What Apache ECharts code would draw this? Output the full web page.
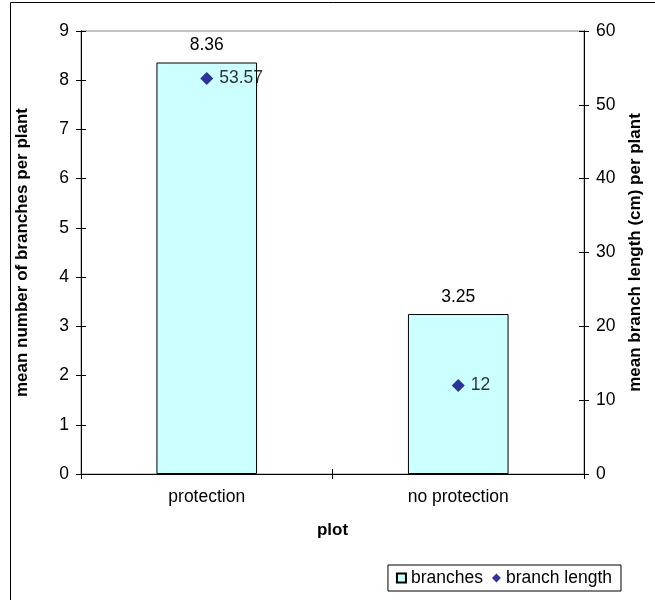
<!DOCTYPE html>
<html><head><meta charset="utf-8">
<script src="https://cdn.jsdelivr.net/npm/echarts@6/dist/echarts.min.js"></script>
<style>html,body{margin:0;padding:0;background:#fff}#c{width:655px;height:600px}</style>
</head><body><div id="c"></div>
<script>
const categories = ['protection', 'no protection'];
const branches = [8.36, 3.25];
const branchLength = [53.57, 12];
const leftTicks = {min: 0, max: 9, interval: 1};
const rightTicks = {min: 0, max: 60, interval: 10};

const font = 'Liberation Sans, Arial, sans-serif';
const fs = 17.5;
const chart = echarts.init(document.getElementById('c'));
const baseY = (t, pos, extra) => Object.assign({
  type: 'value', position: pos, min: t.min, max: t.max, interval: t.interval,
  splitLine: {show: false},
  axisLine: {show: true, lineStyle: {color: '#000', width: 1}},
  axisTick: {show: true, length: 5, lineStyle: {color: '#000'}},
  axisLabel: {color: '#000', fontSize: fs, fontFamily: font, margin: 12}
}, extra || {});
const titleStyle = {color: '#000', fontSize: 17, fontWeight: 'bold', fontFamily: font};
chart.setOption({
  animation: false,
  grid: {left: 81, right: 71, top: 31, bottom: 126, show: true, borderColor: '#888', borderWidth: 1},
  graphic: [{type: 'rect', shape: {x: 10.5, y: 2.5, width: 700, height: 700}, style: {fill: 'none', stroke: '#000', lineWidth: 1}, silent: true}],
  legend: {
    right: 34, bottom: 9, orient: 'horizontal', itemGap: 9, itemWidth: 9, itemHeight: 9,
    borderColor: '#000', borderWidth: 1, padding: [4, 9, 4, 8],
    textStyle: {color: '#000', fontSize: fs, fontFamily: font},
    data: [{name: 'branches', icon: 'rect'}, {name: 'branch length', icon: 'diamond'}]
  },
  xAxis: [{
    type: 'category', data: categories, name: 'plot', nameLocation: 'middle', nameGap: 48,
    nameTextStyle: titleStyle,
    axisLine: {lineStyle: {color: '#000'}},
    axisTick: {show: true, length: 5, inside: false, lineStyle: {color: '#000'}},
    axisLabel: {color: '#000', fontSize: fs, fontFamily: font, margin: 14}
  }, {
    type: 'category', data: categories, position: 'bottom',
    axisLine: {lineStyle: {color: '#000'}},
    axisTick: {show: true, length: 5, inside: true, lineStyle: {color: '#000'}},
    axisLabel: {show: false}
  }],
  yAxis: [
    baseY(leftTicks, 'left', {name: 'mean number of branches per plant', nameLocation: 'middle', nameGap: 50,
      nameTextStyle: titleStyle}),
    baseY(rightTicks, 'right', {name: 'mean branch length (cm) per plant', nameLocation: 'middle', nameGap: 40,
      nameRotate: 90, nameTextStyle: titleStyle}),
    baseY(leftTicks, 'left', {axisLabel: {show: false}, axisTick: {show: true, inside: true, length: 5, lineStyle: {color: '#000'}}}),
    baseY(rightTicks, 'right', {axisLabel: {show: false}, axisTick: {show: true, inside: true, length: 5, lineStyle: {color: '#000'}}})
  ],
  series: [
    {name: 'branches', type: 'bar', data: branches, yAxisIndex: 0, barWidth: '40%',
      itemStyle: {color: '#CCFFFF', borderColor: '#000', borderWidth: 1},
      label: {show: true, position: 'top', distance: 8, color: '#000', fontSize: fs, fontFamily: font}},
    {name: 'branch length', type: 'scatter', data: branchLength, yAxisIndex: 1, symbol: 'diamond', symbolSize: 13,
      itemStyle: {color: '#000080'},
      label: {show: true, position: 'right', distance: 6, color: '#000', fontSize: fs, fontFamily: font}}
  ]
});
</script></body></html>
